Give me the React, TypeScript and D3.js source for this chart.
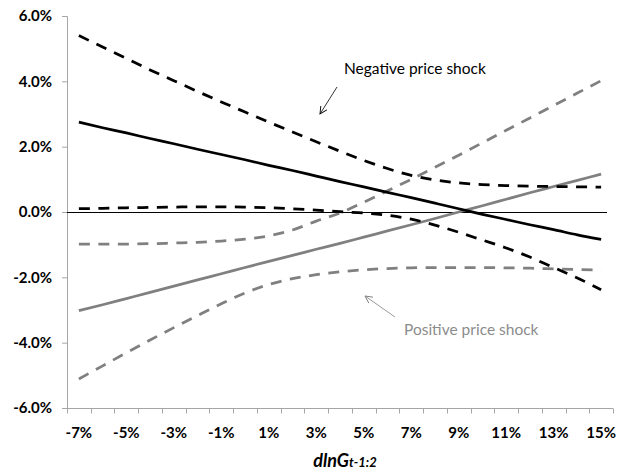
import * as d3 from 'd3';

import React, { useEffect, useRef } from 'react';

const categories: number[] = [-7, -6, -5, -4, -3, -2, -1, 0, 1, 2, 3, 4, 5, 6, 7, 8, 9, 10, 11, 12, 13, 14, 15];

// negative price shock (black)
const negMean: number[] = [2.75, 2.58, 2.42, 2.25, 2.09, 1.92, 1.76, 1.6, 1.43, 1.27, 1.1, 0.93, 0.77, 0.6, 0.44, 0.27, 0.1, -0.07, -0.23, -0.39, -0.54, -0.7, -0.84];
const negUpper: number[] = [5.4, 5.05, 4.7, 4.35, 4.02, 3.69, 3.37, 3.06, 2.75, 2.45, 2.15, 1.86, 1.58, 1.33, 1.12, 0.98, 0.89, 0.84, 0.81, 0.79, 0.78, 0.77, 0.76];
const negLower: number[] = [0.1, 0.11, 0.13, 0.14, 0.15, 0.16, 0.16, 0.15, 0.13, 0.1, 0.06, 0.01, -0.03, -0.1, -0.22, -0.4, -0.62, -0.86, -1.1, -1.38, -1.7, -2.02, -2.38];

// positive price shock (grey)
const posMean: number[] = [-3.02, -2.84, -2.65, -2.46, -2.27, -2.08, -1.89, -1.7, -1.51, -1.33, -1.14, -0.96, -0.77, -0.58, -0.39, -0.2, 0.0, 0.19, 0.39, 0.59, 0.78, 0.97, 1.16];
const posUpper: number[] = [-0.98, -0.98, -0.98, -0.97, -0.95, -0.93, -0.89, -0.83, -0.73, -0.55, -0.28, -0.03, 0.3, 0.65, 1.0, 1.37, 1.74, 2.12, 2.5, 2.88, 3.26, 3.64, 4.02];
const posLower: number[] = [-5.11, -4.71, -4.31, -3.92, -3.54, -3.17, -2.81, -2.48, -2.22, -2.04, -1.92, -1.83, -1.77, -1.73, -1.71, -1.7, -1.7, -1.7, -1.71, -1.72, -1.74, -1.76, -1.78];

const yTicks: number[] = [-6, -4, -2, 0, 2, 4, 6];
const xLabelStep = 2;

const FONT = 'Lato, "Open Sans", sans-serif';
const GREY = '#808080';

export default function App() {
  const ref = useRef<SVGSVGElement>(null);
  const width = 617;
  const height = 474;
  const margin = { top: 16, right: 4, bottom: 66, left: 67 };

  useEffect(() => {
    const svg = d3.select(ref.current);
    svg.selectAll('*').remove();

    const x = d3
      .scaleBand<number>()
      .domain(categories)
      .range([margin.left, width - margin.right])
      .padding(0);
    const y = d3
      .scaleLinear()
      .domain([-6, 6])
      .range([height - margin.bottom, margin.top]);
    const cx = (c: number) => (x(c) ?? 0) + x.bandwidth() / 2;

    const defs = svg.append('defs');
    const marker = (id: string, color: string) =>
      defs
        .append('marker')
        .attr('id', id)
        .attr('viewBox', '0 0 10 10')
        .attr('refX', 9)
        .attr('refY', 5)
        .attr('markerWidth', 9)
        .attr('markerHeight', 9)
        .attr('markerUnits', 'userSpaceOnUse')
        .attr('orient', 'auto')
        .append('path')
        .attr('d', 'M1,1 L9,5 L1,9')
        .attr('fill', 'none')
        .attr('stroke', color)
        .attr('stroke-width', 1);
    marker('arrBlack', '#000');
    marker('arrGrey', GREY);

    // y axis
    const yAxis = svg
      .append('g')
      .attr('transform', `translate(${margin.left},0)`)
      .call(d3.axisLeft(y).tickValues(yTicks).tickSize(5).tickFormat((d) => `${(+d).toFixed(1)}%`));
    yAxis.select('.domain').attr('stroke', '#a6a6a6');
    yAxis.selectAll('.tick line').attr('stroke', '#a6a6a6');
    yAxis
      .selectAll('.tick text')
      .attr('x', -15)
      .attr('font-family', FONT)
      .attr('font-weight', 'bold')
      .attr('font-size', 15)
      .attr('fill', '#000');

    // x axis (ticks between categories)
    const xAxis = svg.append('g').attr('transform', `translate(0,${height - margin.bottom + 0.5})`);
    xAxis
      .append('line')
      .attr('x1', margin.left)
      .attr('x2', width - margin.right)
      .attr('stroke', '#a6a6a6');
    xAxis
      .selectAll('line.tk')
      .data([...categories, 16])
      .join('line')
      .attr('class', 'tk')
      .attr('x1', (d, i) => Math.round(margin.left + i * x.bandwidth()) + 0.5)
      .attr('x2', (d, i) => Math.round(margin.left + i * x.bandwidth()) + 0.5)
      .attr('y1', 0)
      .attr('y2', 5)
      .attr('stroke', '#a6a6a6');
    xAxis
      .selectAll('text')
      .data(categories.filter((c, i) => i % xLabelStep === 0))
      .join('text')
      .attr('x', (d) => cx(d))
      .attr('y', 29)
      .attr('text-anchor', 'middle')
      .attr('font-family', FONT)
      .attr('font-weight', 'bold')
      .attr('font-size', 15)
      .text((d) => `${d}%`);

    // zero line
    svg
      .append('line')
      .attr('x1', margin.left)
      .attr('x2', width - 10)
      .attr('y1', y(0) + 0.5)
      .attr('y2', y(0) + 0.5)
      .attr('stroke', '#000')
      .attr('stroke-width', 1.2);

    const line = d3
      .line<number>()
      .x((d, i) => cx(categories[i]))
      .y((d) => y(d))
      .curve(d3.curveMonotoneX);

    const series = [
      { values: posUpper, color: GREY, dash: '11,8.5' },
      { values: posLower, color: GREY, dash: '11,8.5' },
      { values: posMean, color: GREY, dash: null },
      { values: negUpper, color: '#000', dash: '11,8.5' },
      { values: negLower, color: '#000', dash: '11,8.5' },
      { values: negMean, color: '#000', dash: null },
    ];

    svg
      .append('g')
      .selectAll('path')
      .data(series)
      .join('path')
      .attr('d', (d) => line(d.values))
      .attr('fill', 'none')
      .attr('stroke', (d) => d.color)
      .attr('stroke-width', 2.75)
      .attr('stroke-dasharray', (d) => d.dash);

    // annotations
    svg
      .append('text')
      .attr('x', 344)
      .attr('y', 74)
      .attr('font-family', FONT)
      .attr('font-size', 15.5)
      .attr('fill', '#000')
      .text('Negative price shock');
    svg
      .append('line')
      .attr('x1', 337)
      .attr('y1', 87)
      .attr('x2', 320)
      .attr('y2', 114)
      .attr('stroke', '#000')
      .attr('stroke-width', 0.8)
      .attr('marker-end', 'url(#arrBlack)');

    svg
      .append('text')
      .attr('x', 404)
      .attr('y', 335)
      .attr('font-family', FONT)
      .attr('font-size', 15.5)
      .attr('fill', '#8c8c8c')
      .text('Positive price shock');
    svg
      .append('line')
      .attr('x1', 395)
      .attr('y1', 317)
      .attr('x2', 365)
      .attr('y2', 296)
      .attr('stroke', GREY)
      .attr('stroke-width', 0.8)
      .attr('marker-end', 'url(#arrGrey)');

    // x axis title
    const title = svg
      .append('text')
      .attr('x', 345)
      .attr('y', 467)
      .attr('text-anchor', 'middle')
      .attr('font-family', FONT)
      .attr('font-weight', 'bold')
      .attr('font-style', 'italic');
    title.append('tspan').attr('font-size', 18).text('dlnG');
    title.append('tspan').attr('font-size', 13).text('t-1:2');
  }, []);

  return <svg ref={ref} width={width} height={height} style={{ position: 'absolute', left: 0, top: 0 }}></svg>;
}
